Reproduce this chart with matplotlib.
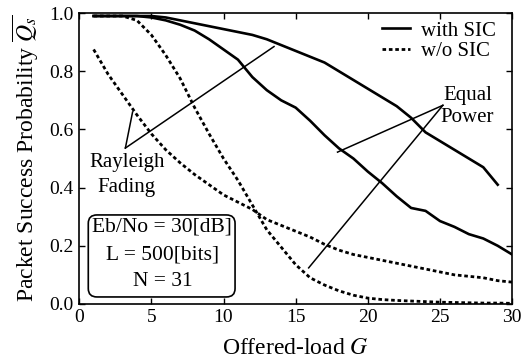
import matplotlib
matplotlib.use("Agg")
import matplotlib.pyplot as plt
from matplotlib.patches import FancyBboxPatch

plt.rcParams['font.family'] = ['Liberation Serif', 'DejaVu Serif']
plt.rcParams['mathtext.fontset'] = 'stix'

G1 = list(range(1, 30))
rayleigh_sic = [0.99, 0.99, 0.99, 0.99, 0.99, 0.985, 0.975, 0.965, 0.955, 0.945,
                0.935, 0.925, 0.91, 0.89, 0.87, 0.85, 0.83, 0.80, 0.77, 0.74,
                0.71, 0.68, 0.64, 0.59, 0.56, 0.53, 0.50, 0.47, 0.41]
G2 = list(range(1, 31))
equal_sic = [0.99, 0.99, 0.99, 0.99, 0.985, 0.975, 0.96, 0.94, 0.91, 0.875,
             0.84, 0.78, 0.735, 0.70, 0.675, 0.63, 0.58, 0.535, 0.50, 0.455,
             0.415, 0.37, 0.33, 0.32, 0.285, 0.265, 0.24, 0.225, 0.20, 0.17]
rayleigh_nosic = [0.875, 0.79, 0.72, 0.65, 0.585, 0.53, 0.485, 0.445, 0.41, 0.375,
                  0.35, 0.325, 0.29, 0.27, 0.25, 0.23, 0.205, 0.185, 0.17, 0.16,
                  0.15, 0.14, 0.13, 0.12, 0.11, 0.10, 0.095, 0.09, 0.08, 0.075]
equal_nosic = [0.99, 0.99, 0.99, 0.975, 0.925, 0.855, 0.775, 0.675, 0.585, 0.50,
               0.425, 0.34, 0.255, 0.195, 0.135, 0.09, 0.065, 0.045, 0.03, 0.02,
               0.015, 0.012, 0.01, 0.008, 0.006, 0.005, 0.004, 0.003, 0.003, 0.002]

xticks = [0, 5, 10, 15, 20, 25, 30]
yticks = [0.0, 0.2, 0.4, 0.6, 0.8, 1.0]

fig = plt.figure(figsize=(5.21, 3.64), dpi=100)
ax = fig.add_axes([0.152, 0.165, 0.831, 0.799])

ax.plot(G1, rayleigh_sic, color='black', lw=1.9, label='with SIC')
ax.plot(G2, equal_sic, color='black', lw=1.9)
ax.plot(G2, rayleigh_nosic, color='black', lw=2.0, ls=(0, (1.3, 1.0)), label='w/o SIC')
ax.plot(G2, equal_nosic, color='black', lw=2.0, ls=(0, (1.3, 1.0)))

ax.set_xlim(0, 30)
ax.set_ylim(0, 1.0)
ax.set_xticks(xticks)
ax.set_yticks(yticks)
ax.set_yticklabels([f"{v:.1f}" for v in yticks])
ax.tick_params(direction='in', top=True, right=True, labelsize=14, length=4, width=1, pad=4)
for s in ax.spines.values():
    s.set_linewidth(1.2)

ax.set_xlabel('Offered-load $G$', fontsize=17, labelpad=8)
ax.set_ylabel('Packet Success Probability $\\overline{Q_s}$', fontsize=17, labelpad=6)

leg = ax.legend(loc='upper right', bbox_to_anchor=(1.0, 1.03), fontsize=15, frameon=False,
                handlelength=1.35, handletextpad=0.5, borderaxespad=0.4,
                labelspacing=0.05)

# Rayleigh Fading annotation
ax.text(3.3, 0.485, 'Rayleigh', fontsize=15, ha='center', va='center')
ax.text(3.3, 0.40, 'Fading', fontsize=15, ha='center', va='center')
ax.plot([3.2, 3.7], [0.536, 0.66], color='black', lw=1.1)
ax.plot([3.2, 13.5], [0.536, 0.885], color='black', lw=1.1)

# Equal Power annotation
ax.text(26.9, 0.718, 'Equal', fontsize=15, ha='center', va='center')
ax.text(26.9, 0.64, 'Power', fontsize=15, ha='center', va='center')
ax.plot([25.2, 17.9], [0.683, 0.522], color='black', lw=1.1)
ax.plot([25.2, 15.9], [0.683, 0.124], color='black', lw=1.1)

# parameter box
box = FancyBboxPatch((0.63, 0.024), 10.17, 0.282, boxstyle='round,pad=0,rounding_size=0.6',
                     transform=ax.transData, fill=False, lw=1.2, ec='black',
                     mutation_aspect=0.048)
ax.add_patch(box)
ax.text(5.75, 0.265, 'Eb/No = 30[dB]', fontsize=15.5, ha='center', va='center')
ax.text(5.8, 0.168, 'L = 500[bits]', fontsize=15.5, ha='center', va='center')
ax.text(5.8, 0.076, 'N = 31', fontsize=15.5, ha='center', va='center')

fig.savefig('out.png', dpi=100)
